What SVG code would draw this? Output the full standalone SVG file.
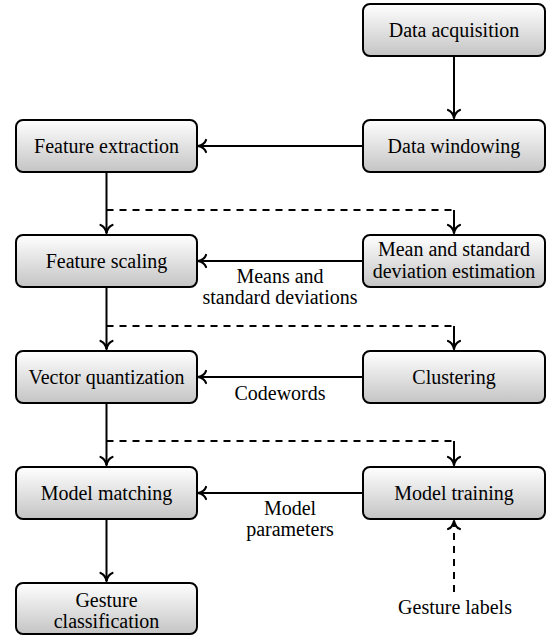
<svg xmlns="http://www.w3.org/2000/svg" width="551" height="637" viewBox="0 0 551 637">
<defs>
<linearGradient id="g" x1="0" y1="0" x2="0" y2="1">
<stop offset="0" stop-color="#ffffff"/>
<stop offset="1" stop-color="#c4c4c4"/>
</linearGradient>
<marker id="ah" markerUnits="userSpaceOnUse" viewBox="-10 -8 12 16" refX="0" refY="0" markerWidth="12" markerHeight="16" orient="auto" overflow="visible">
<path d="M -8,-6 C -7,-2.8 -3,-0.7 0,0 C -3,0.7 -7,2.8 -8,6" fill="none" stroke="#000" stroke-width="2.2" stroke-linecap="round" stroke-linejoin="round"/>
</marker>
</defs>
<g id="connectors" fill="none" stroke="#000" stroke-width="2">
<path marker-end="url(#ah)" d="M454,56 V118"/>
<path marker-end="url(#ah)" d="M363,146 H198"/>
<path marker-end="url(#ah)" d="M106.5,172 V233"/>
<path marker-end="url(#ah)" d="M454,210 V233"/>
<path marker-end="url(#ah)" d="M363,261 H198"/>
<path marker-end="url(#ah)" d="M106.5,287 V349"/>
<path marker-end="url(#ah)" d="M454,326 V349"/>
<path marker-end="url(#ah)" d="M363,377 H198"/>
<path marker-end="url(#ah)" d="M106.5,403 V465"/>
<path marker-end="url(#ah)" d="M454,441 V465"/>
<path marker-end="url(#ah)" d="M363,493 H198"/>
<path marker-end="url(#ah)" d="M106.5,519 V581"/>
<path marker-end="url(#ah)" stroke-dasharray="7 6" d="M454,592 V521"/>
<path stroke-dasharray="7 6" d="M106.5,210 H454"/>
<path stroke-dasharray="7 6" d="M106.5,326 H454"/>
<path stroke-dasharray="7 6" d="M106.5,441 H454"/>
</g>
<g id="labels">
<text x="280" y="283" font-size="20" font-family="'Liberation Serif'" text-anchor="middle">Means and</text>
<text x="280" y="304" font-size="20" font-family="'Liberation Serif'" text-anchor="middle">standard deviations</text>
<text x="280" y="400" font-size="20" font-family="'Liberation Serif'" text-anchor="middle">Codewords</text>
<text x="290" y="515" font-size="20" font-family="'Liberation Serif'" text-anchor="middle">Model</text>
<text x="290" y="536" font-size="20" font-family="'Liberation Serif'" text-anchor="middle">parameters</text>
<text x="455" y="614" font-size="20" font-family="'Liberation Serif'" text-anchor="middle">Gesture labels</text>
</g>
<g id="data-acquisition"><rect fill="url(#g)" stroke="#000" stroke-width="2" x="363" y="4" width="182" height="52" rx="7"/><text x="454" y="37" font-size="20" font-family="'Liberation Serif'" text-anchor="middle">Data acquisition</text></g>
<g id="data-windowing"><rect fill="url(#g)" stroke="#000" stroke-width="2" x="363" y="120" width="182" height="52" rx="7"/><text x="454" y="153" font-size="20" font-family="'Liberation Serif'" text-anchor="middle">Data windowing</text></g>
<g id="feature-extraction"><rect fill="url(#g)" stroke="#000" stroke-width="2" x="16" y="120" width="181" height="52" rx="7"/><text x="106.5" y="153" font-size="20" font-family="'Liberation Serif'" text-anchor="middle">Feature extraction</text></g>
<g id="feature-scaling"><rect fill="url(#g)" stroke="#000" stroke-width="2" x="16" y="235" width="181" height="52" rx="7"/><text x="106.5" y="268" font-size="20" font-family="'Liberation Serif'" text-anchor="middle">Feature scaling</text></g>
<g id="mean-std-estimation"><rect fill="url(#g)" stroke="#000" stroke-width="2" x="363" y="235" width="182" height="52" rx="7"/><text x="454" y="256" font-size="20" font-family="'Liberation Serif'" text-anchor="middle">Mean and standard</text><text x="454" y="278" font-size="20" font-family="'Liberation Serif'" text-anchor="middle">deviation estimation</text></g>
<g id="vector-quantization"><rect fill="url(#g)" stroke="#000" stroke-width="2" x="16" y="351" width="181" height="52" rx="7"/><text x="106.5" y="384" font-size="20" font-family="'Liberation Serif'" text-anchor="middle">Vector quantization</text></g>
<g id="clustering"><rect fill="url(#g)" stroke="#000" stroke-width="2" x="363" y="351" width="182" height="52" rx="7"/><text x="454" y="384" font-size="20" font-family="'Liberation Serif'" text-anchor="middle">Clustering</text></g>
<g id="model-matching"><rect fill="url(#g)" stroke="#000" stroke-width="2" x="16" y="467" width="181" height="52" rx="7"/><text x="106.5" y="500" font-size="20" font-family="'Liberation Serif'" text-anchor="middle">Model matching</text></g>
<g id="model-training"><rect fill="url(#g)" stroke="#000" stroke-width="2" x="363" y="467" width="182" height="52" rx="7"/><text x="454" y="500" font-size="20" font-family="'Liberation Serif'" text-anchor="middle">Model training</text></g>
<g id="gesture-classification"><rect fill="url(#g)" stroke="#000" stroke-width="2" x="16" y="583" width="181" height="51" rx="7"/><text x="106.5" y="607" font-size="20" font-family="'Liberation Serif'" text-anchor="middle">Gesture</text><text x="106.5" y="628" font-size="20" font-family="'Liberation Serif'" text-anchor="middle">classification</text></g>
</svg>
